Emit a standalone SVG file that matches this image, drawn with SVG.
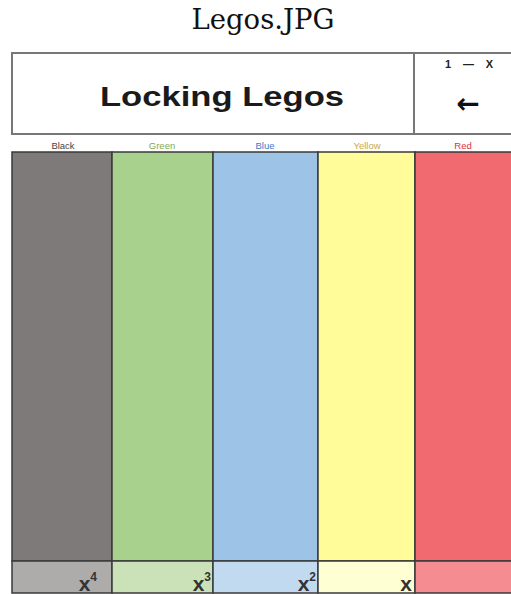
<svg xmlns="http://www.w3.org/2000/svg" width="511" height="594" viewBox="0 0 511 594">
<style>
.lbl{font-family:"Liberation Sans",Arial,sans-serif;font-size:9.5px;text-anchor:middle}
.cell{stroke:#3a3a3a;stroke-width:1.5}
.xv{font-family:"Liberation Sans",Arial,sans-serif;font-weight:bold;font-size:21px;fill:#333;text-anchor:end}
.sup{font-size:12px}
</style>
<rect width="511" height="594" fill="#fff"/>
<text x="263" y="29" font-family="'DejaVu Serif','Liberation Serif',serif" font-size="28" text-anchor="middle" textLength="143" lengthAdjust="spacingAndGlyphs" fill="#111">Legos.JPG</text>
<g id="header">
<rect x="12" y="53" width="505" height="81" fill="#fff" stroke="#777" stroke-width="2"/>
<line x1="414" y1="53" x2="414" y2="134" stroke="#777" stroke-width="2"/>
<text x="222" y="106" font-family="'Liberation Sans',Arial,sans-serif" font-weight="bold" font-size="28" text-anchor="middle" textLength="244" lengthAdjust="spacingAndGlyphs" fill="#1a1a1a">Locking Legos</text>
<text x="469" y="68" font-family="'Liberation Sans',Arial,sans-serif" font-weight="bold" font-size="11" text-anchor="middle" textLength="48" lengthAdjust="spacing" fill="#222">1 — X</text>
<text x="468" y="113" font-family="'DejaVu Sans',sans-serif" font-weight="bold" font-size="28" text-anchor="middle" fill="#111">←</text>
</g>
<g id="labels">
<text class="lbl" x="63" y="149" fill="#444">Black</text>
<text class="lbl" x="162" y="149" fill="#7aaa5a">Green</text>
<text class="lbl" x="265" y="149" fill="#3a7cc8">Blue</text>
<text class="lbl" x="367" y="149" fill="#c8a84a">Yellow</text>
<text class="lbl" x="463" y="149" fill="#e0303c">Red</text>
</g>
<g id="black">
<rect class="cell" x="12" y="152" width="100" height="409" fill="#7e7a7a"/>
<rect class="cell" x="12" y="561" width="100" height="32" fill="#aeabab"/>
<text class="xv" x="97" y="591">x<tspan class="sup" dy="-10">4</tspan></text>
</g>
<g id="green">
<rect class="cell" x="112" y="152" width="101" height="409" fill="#a9d18e"/>
<rect class="cell" x="112" y="561" width="101" height="32" fill="#cbe2b8"/>
<text class="xv" x="211" y="591">x<tspan class="sup" dy="-10">3</tspan></text>
</g>
<g id="blue">
<rect class="cell" x="213" y="152" width="105" height="409" fill="#9dc3e6"/>
<rect class="cell" x="213" y="561" width="105" height="32" fill="#c2daf0"/>
<text class="xv" x="316" y="591">x<tspan class="sup" dy="-10">2</tspan></text>
</g>
<g id="yellow">
<rect class="cell" x="318" y="152" width="97" height="409" fill="#fffc99"/>
<rect class="cell" x="318" y="561" width="97" height="32" fill="#ffffd4"/>
<text class="xv" x="412" y="591">x</text>
</g>
<g id="red">
<rect class="cell" x="415" y="152" width="100" height="409" fill="#f06a70"/>
<rect class="cell" x="415" y="561" width="100" height="32" fill="#f48c92"/>
</g>
</svg>
